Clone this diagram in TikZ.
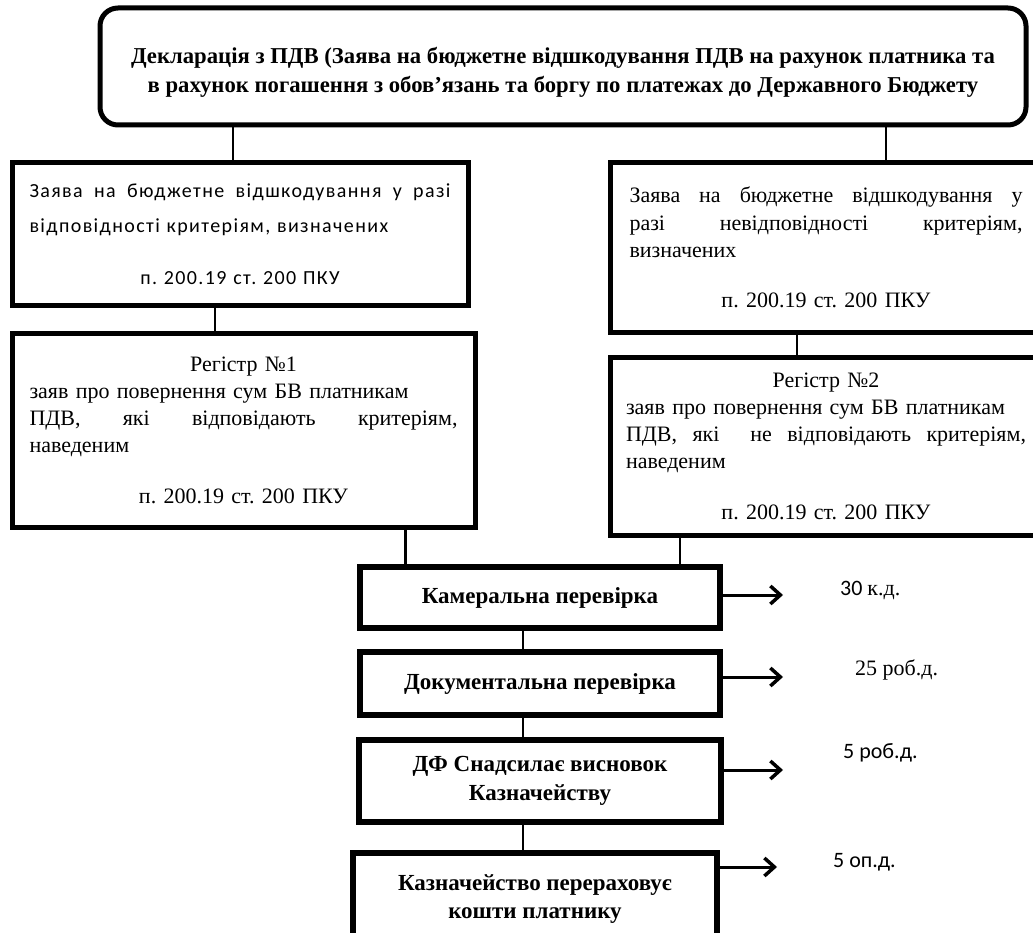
\documentclass[tikz,border=0pt]{standalone}
\usepackage{fontspec}
\setmainfont{Liberation Serif}
\newfontfamily\calfont{Carlito}
\newfontfamily\calspaced{Carlito}[LetterSpace=7]
\usetikzlibrary{arrows.meta,calc}
\frenchspacing
\newcommand{\jline}[2]{\leavevmode\hbox to #1{#2}}
\tikzset{
  boxbase/.style={draw, line width=5pt, inner sep=0pt, align=center},
  txtbox/.style={boxbase, font=\fontsize{22}{27.3}\selectfont},
  boldbox/.style={boxbase, line width=5.5pt, font=\bfseries\fontsize{23}{28.5}\selectfont},
  conn/.style={line width=2pt},
  arr/.style={line width=3pt, -{Straight Barb[length=10pt,width=18pt,line width=3.5pt]}},
  dayslabel/.style={anchor=west, inner sep=0pt, font=\calfont\fontsize{22}{26}\selectfont},
}
\begin{document}
\begin{tikzpicture}[x=1pt,y=-1pt]
\useasboundingbox (0,0) rectangle (1033,933);
\clip (0,0) rectangle (1033,933);

\node[boxbase, rounded corners=18pt, minimum width=926pt, minimum height=117pt,
      font=\bfseries\fontsize{22.7}{28.5}\selectfont] (decl) at (563,66.5)
  {\rule{0pt}{28pt}Декларація з ПДВ (Заява на бюджетне відшкодування ПДВ на рахунок платника та\\
   в рахунок погашення з обов’язань та боргу по платежах до Державного Бюджету};

\node[boxbase, minimum width=456pt, minimum height=142pt, text width=421pt,
      font=\calspaced\fontsize{20}{35}\selectfont] (lb1) at (240,234)
  {\jline{421pt}{Заява\hfill на\hfill бюджетне\hfill відшкодування\hfill у\hfill разі}\\
   \jline{421pt}{відповідності критеріям, визначених\hfill}\\[17pt]
   п. 200.19 ст. 200 ПКУ};

\node[txtbox, minimum width=463pt, minimum height=194pt, text width=428pt] (lb2) at (243.5,430)
  {Регістр №1\\
   \jline{428pt}{заяв про повернення сум БВ платникам\hfill}\\
   \jline{428pt}{ПДВ,\hfill які\hfill відповідають\hfill критеріям,}\\
   \jline{428pt}{наведеним\hfill}\\[23pt]
   п. 200.19 ст. 200 ПКУ};

\node[txtbox, minimum width=432pt, minimum height=169pt, text width=393pt] (rb1) at (826,247.5)
  {\jline{393pt}{Заява\hfill на\hfill бюджетне\hfill відшкодування\hfill у}\\
   \jline{393pt}{разі\hfill невідповідності\hfill критеріям,}\\
   \jline{393pt}{визначених\hfill}\\[23pt]
   п. 200.19 ст. 200 ПКУ};

\node[txtbox, minimum width=432pt, minimum height=178pt, text width=400pt] (rb2) at (826,446)
  {Регістр №2\\
   \jline{400pt}{заяв про повернення сум БВ платникам\hfill}\\
   \jline{400pt}{ПДВ,\hfill які\hfill\hfill не\hfill відповідають\hfill критеріям,}\\
   \jline{400pt}{наведеним\hfill}\\[23pt]
   п. 200.19 ст. 200 ПКУ};

\node[boldbox, minimum width=360pt, minimum height=61pt] (kam) at (540,597.5) {Камеральна перевірка};
\node[boldbox, minimum width=360pt, minimum height=63pt] (doc) at (540,683.5) {Документальна перевірка};
\node[boldbox, minimum width=362pt, minimum height=82pt] (df) at (540,781) {ДФ Снадсилає висновок\\ Казначейству};
\node[boldbox, minimum width=364pt, minimum height=92pt] (kaz) at (535,899) {Казначейство перераховує\\ кошти платнику};

\coordinate (x1) at (233,0);
\coordinate (x2) at (886,0);
\coordinate (x3) at (215,0);
\coordinate (x4) at (797,0);
\coordinate (x5) at (405,0);
\coordinate (x6) at (680,0);
\coordinate (x7) at (523,0);

\draw[conn, line width=2.5pt] (decl.south -| x1) -- (lb1.north -| x1);
\draw[conn, line width=2.5pt] (decl.south -| x2) -- (rb1.north -| x2);
\draw[conn] (lb1.south -| x3) -- (lb2.north -| x3);
\draw[conn] (rb1.south -| x4) -- (rb2.north -| x4);
\draw[conn, line width=3pt] (lb2.south -| x5) -- (kam.north -| x5);
\draw[conn] (rb2.south -| x6) -- (kam.north -| x6);
\draw[conn] (kam.south -| x7) -- (doc.north -| x7);
\draw[conn] (doc.south -| x7) -- (df.north -| x7);
\draw[conn] (df.south -| x7) -- (kaz.north -| x7);

\coordinate (t1) at (783,595);
\coordinate (t2) at (783,677);
\coordinate (t3) at (783,770);
\coordinate (t4) at (777,867);
\draw[arr] (kam.east |- t1) -- (t1);
\draw[arr] (doc.east |- t2) -- (t2);
\draw[arr] (df.east |- t3) -- (t3);
\draw[arr] (kaz.east |- t4) -- (t4);

\node[dayslabel] (l1) at (840,590) {30 {\rmfamily к.д.}};
\node[dayslabel, font=\fontsize{22}{26}\selectfont] (l2) at (855,670) {25 роб.д.};
\node[dayslabel] (l3) at (843,753) {5 роб.д.};
\node[dayslabel] (l4) at (833,862) {5 оп.д.};
\end{tikzpicture}
\end{document}
